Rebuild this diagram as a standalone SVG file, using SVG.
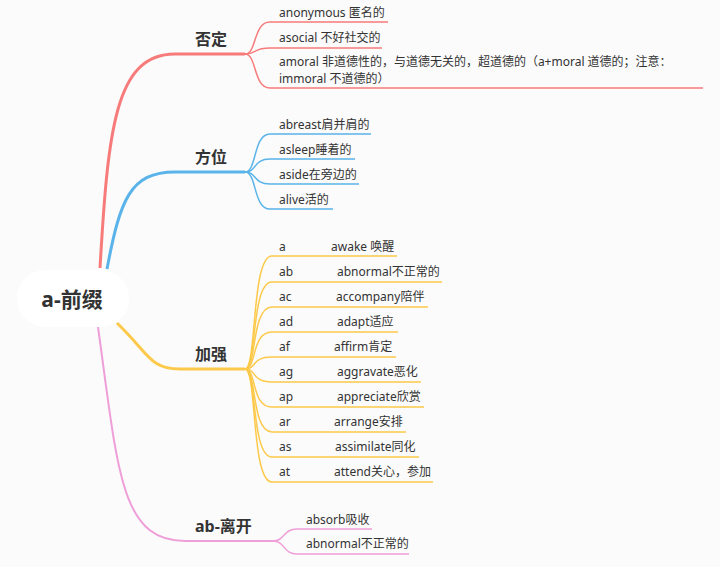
<svg xmlns="http://www.w3.org/2000/svg" width="720" height="567" viewBox="0 0 720 567">
<style>
text{font-family:"Noto Sans","Noto Sans CJK SC",sans-serif;fill:#333;dominant-baseline:central}
.t{font-size:12px}
.b{font-size:16px;font-weight:bold}
.c path{fill:none;stroke-width:1.5}
.r path{stroke:#f77b7b}.u path{stroke:#5ab4ea}.y path{stroke:#fdc94a}.p path{stroke:#ee9ed8}
</style>
<rect width="720" height="567" fill="#fbfbfb"/>
<g id="connectors" class="c">
<g class="r"><path d="M100 268 C108 130 115 54 175 54 L245 54" style="stroke-width:3"/>
<path d="M245 54 C257 54 253 22 270 22 L388 22"/><path d="M245 54 C257 54 253 48 270 48 L382 48"/><path d="M245 54 C257 54 253 88 270 88 L703 88"/></g>
<g class="u"><path d="M107 269 C120 200 130 172 175 172 L245 172" style="stroke-width:3"/>
<path d="M245 172 C257 172 253 134 270 134 L371 134"/><path d="M245 172 C257 172 253 159 270 159 L355 159"/><path d="M245 172 C257 172 253 184 270 184 L359 184"/><path d="M245 172 C257 172 253 209 270 209 L333 209"/></g>
<g class="y"><path d="M117 323 C150 355 150 369 180 369 L245 369" style="stroke-width:3"/>
<path d="M245 369 C257 369 251 256 272 256 L397 256"/><path d="M245 369 C257 369 251 282 272 282 L442 282"/><path d="M245 369 C257 369 251 307 272 307 L428 307"/><path d="M245 369 C257 369 251 332 272 332 L398 332"/><path d="M245 369 C257 369 251 357 272 357 L396 357"/><path d="M245 369 C257 369 251 382 272 382 L421 382"/><path d="M245 369 C257 369 251 407 272 407 L424 407"/><path d="M245 369 C257 369 251 432 272 432 L406 432"/><path d="M245 369 C257 369 251 457 272 457 L419 457"/><path d="M245 369 C257 369 251 482 272 482 L433 482"/></g>
<g class="p"><path d="M98 327 C118 470 120 541 185 541 L273 541" style="stroke-width:2"/>
<path d="M273 541 C285 541 283 529 297 529 L372 529"/><path d="M273 541 C285 541 283 554 297 554 L409 554"/></g>
</g>
<g id="root"><rect x="17" y="270" width="112" height="57" rx="28" fill="#fff"/><text x="72" y="299" text-anchor="middle" style="font-size:21px;font-weight:bold">a-前缀</text></g>
<g id="n1"><text class="b" x="195" y="39">否定</text>
<text class="t" x="279" y="12">anonymous 匿名的</text><text class="t" x="279" y="37">asocial 不好社交的</text>
<text class="t" x="279" y="61">amoral 非道德性的，与道德无关的，超道德的（a+moral 道德的；注意：</text><text class="t" x="279" y="78">immoral 不道德的）</text></g>
<g id="n2"><text class="b" x="195" y="157">方位</text>
<text class="t" x="279" y="124">abreast肩并肩的</text><text class="t" x="279" y="149">asleep睡着的</text><text class="t" x="279" y="174">aside在旁边的</text><text class="t" x="279" y="199">alive活的</text></g>
<g id="n3"><text class="b" x="195" y="354">加强</text>
<g class="t"><text x="279" y="246">a</text><text x="331" y="246">awake 唤醒</text>
<text x="279" y="271">ab</text><text x="337" y="271">abnormal不正常的</text>
<text x="279" y="296">ac</text><text x="336" y="296">accompany陪伴</text>
<text x="279" y="321">ad</text><text x="337" y="321">adapt适应</text>
<text x="279" y="346">af</text><text x="334" y="346">affirm肯定</text>
<text x="279" y="371">ag</text><text x="337" y="371">aggravate恶化</text>
<text x="279" y="396">ap</text><text x="337" y="396">appreciate欣赏</text>
<text x="279" y="421">ar</text><text x="334" y="421">arrange安排</text>
<text x="279" y="446">as</text><text x="335" y="446">assimilate同化</text>
<text x="279" y="471">at</text><text x="334" y="471">attend关心，参加</text></g></g>
<g id="n4"><text class="b" x="195" y="526">ab-离开</text>
<text class="t" x="306" y="519">absorb吸收</text><text class="t" x="306" y="543">abnormal不正常的</text></g>
</svg>
